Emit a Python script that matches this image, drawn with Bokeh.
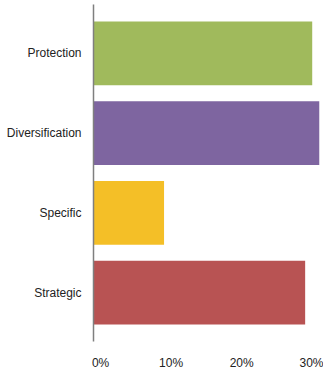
from bokeh.plotting import figure
from bokeh.models import Range1d, FactorRange, LinearAxis, FixedTicker, PrintfTickFormatter, ColumnDataSource
from bokeh.embed import file_html
from bokeh.resources import INLINE

categories = ["Strategic", "Specific", "Diversification", "Protection"]
values = [30, 10, 32, 31]
colors = ["#B85353", "#F4BF27", "#7E65A0", "#A0BA5C"]
tick_values = [0, 10, 20, 30]

src = ColumnDataSource(dict(cat=categories, val=values, color=colors))

p = figure(width=323, height=372, output_backend="svg", toolbar_location=None,
           y_range=FactorRange(factors=categories, range_padding=0.1125, range_padding_units="absolute"),
           x_range=Range1d(0, 32.6), x_axis_location=None,
           min_border_left=93, min_border_right=0, min_border_top=4, min_border_bottom=30)
p.outline_line_color = None
p.background_fill_color = "white"
p.border_fill_color = "white"
p.grid.visible = False

p.hbar(y="cat", right="val", left=0, height=0.8, color="color", line_color=None, source=src)

# y axis
ya = p.yaxis[0]
ya.axis_line_color = "#7F7F7F"
ya.axis_line_width = 1.5
ya.major_tick_line_color = None
ya.minor_tick_line_color = None
ya.major_tick_out = 0
ya.major_label_standoff = 12
ya.major_label_text_font = "Liberation Sans"
ya.major_label_text_font_size = "12px"
ya.major_label_text_color = "#222222"

# x axis labels (offset slightly right of their ticks, as in reference)
p.extra_x_ranges = {"lbl": Range1d(-1, 31.6)}
xa = LinearAxis(x_range_name="lbl", ticker=FixedTicker(ticks=tick_values),
                formatter=PrintfTickFormatter(format="%d%%"))
xa.axis_line_color = None
xa.major_tick_line_color = None
xa.minor_tick_line_color = None
xa.major_tick_out = 0
xa.major_tick_in = 0
xa.major_label_standoff = 14
xa.major_label_text_font = "Liberation Sans"
xa.major_label_text_font_size = "12px"
xa.major_label_text_color = "#222222"
p.add_layout(xa, "below")

open("out.html", "w").write(file_html(p, INLINE))
